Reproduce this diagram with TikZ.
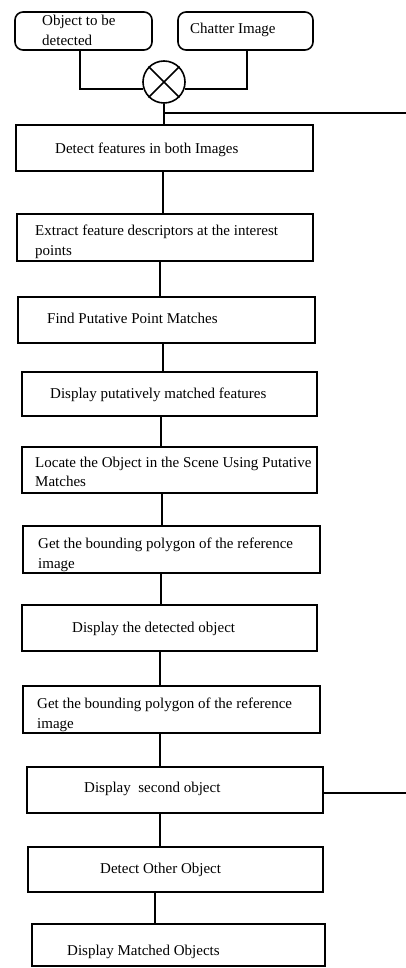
\documentclass[tikz,border=0pt]{standalone}
\usepackage{fontspec}
\setmainfont{Liberation Serif}
\begin{document}
\begin{tikzpicture}[x=1pt,y=-1pt,
  box/.style={draw,line width=1.6pt,rectangle,inner sep=0pt},
  rbox/.style={box,rounded corners=8pt},
  lbl/.style={anchor=west,inner sep=0pt,align=left,font=\fontsize{15}{19.5}\selectfont,text height=10pt,text depth=3pt},
  conn/.style={line width=1.6pt}]
\useasboundingbox (0,0) rectangle (406,968);
\fill[white] (0,0) rectangle (406,968);
% top inputs
\node[rbox,minimum width=137pt,minimum height=38pt] (r1) at (83.5,31) {};
\node[rbox,minimum width=135pt,minimum height=38pt] (r2) at (245.5,31) {};
\node[lbl] (tr1) at (42,42) {Object to be\\detected};
\node[lbl] (tr2) at (190,30) {Chatter Image};
% multiplier
\node[draw,circle,line width=1.6pt,minimum size=42pt,inner sep=0pt] (c) at (164,82) {};
\draw[conn] (c.45) -- (c.225) (c.135) -- (c.-45);
% boxes
\node[box,minimum width=297pt,minimum height=46pt] (b1) at (164.5,148) {};
\node[box,minimum width=296pt,minimum height=47pt] (b2) at (165,237.5) {};
\node[box,minimum width=297pt,minimum height=46pt] (b3) at (166.5,320) {};
\node[box,minimum width=295pt,minimum height=44pt] (b4) at (169.5,394) {};
\node[box,minimum width=295pt,minimum height=46pt] (b5) at (169.5,470) {};
\node[box,minimum width=297pt,minimum height=47pt] (b6) at (171.5,549.5) {};
\node[box,minimum width=295pt,minimum height=46pt] (b7) at (169.5,628) {};
\node[box,minimum width=297pt,minimum height=47pt] (b8) at (171.5,709.5) {};
\node[box,minimum width=296pt,minimum height=46pt] (b9) at (175,790) {};
\node[box,minimum width=295pt,minimum height=45pt] (b10) at (175.5,869.5) {};
\node[box,minimum width=293pt,minimum height=42pt] (b11) at (178.5,945) {};
% texts
\node[lbl] (t1) at (55,150) {Detect features in both Images};
\node[lbl] (t2) at (35,251.5) {Extract feature descriptors at the interest\\points};
\node[lbl] (t3) at (47,320) {Find Putative Point Matches};
\node[lbl] (t4) at (50,395) {Display putatively matched features};
\node[lbl] (t5) at (35,483) {Locate the Object in the Scene Using Putative\\Matches};
\node[lbl] (t6) at (38,564.5) {Get the bounding polygon of the reference\\image};
\node[lbl] (t7) at (72,629) {Display the detected object};
\node[lbl] (t8) at (37,724.5) {Get the bounding polygon of the reference\\image};
\node[lbl] (t9) at (84,789) {Display\ \ second object};
\node[lbl] (t10) at (100,870) {Detect Other Object};
\node[lbl] (t11) at (67,952) {Display Matched Objects};
% connectors
\draw[conn] ([xshift=-3.5pt]r1.south) |- (c.199);
\draw[conn] ([xshift=1.5pt]r2.south) |- (c.-19);
\draw[conn] (c.south) -- (c.south |- b1.north);
\coordinate (j1) at (164,113);
\coordinate (e1) at (406,113);
\draw[conn] (j1) -- (e1);
\draw[conn] ([xshift=-1.5pt]b1.south) -- ([xshift=-1.5pt]b1.south |- b2.north);
\draw[conn] ([xshift=-5pt]b2.south) -- ([xshift=-5pt]b2.south |- b3.north);
\draw[conn] ([xshift=-3.5pt]b3.south) -- ([xshift=-3.5pt]b3.south |- b4.north);
\draw[conn] ([xshift=-8.5pt]b4.south) -- ([xshift=-8.5pt]b4.south |- b5.north);
\draw[conn] ([xshift=-7.5pt]b5.south) -- ([xshift=-7.5pt]b5.south |- b6.north);
\draw[conn] ([xshift=-10.5pt]b6.south) -- ([xshift=-10.5pt]b6.south |- b7.north);
\draw[conn] ([xshift=-9.5pt]b7.south) -- ([xshift=-9.5pt]b7.south |- b8.north);
\draw[conn] ([xshift=-11.5pt]b8.south) -- ([xshift=-11.5pt]b8.south |- b9.north);
\draw[conn] ([xshift=-15pt]b9.south) -- ([xshift=-15pt]b9.south |- b10.north);
\draw[conn] ([xshift=-20.5pt]b10.south) -- ([xshift=-20.5pt]b10.south |- b11.north);
\coordinate (e2) at (406,793);
\draw[conn] (b9.east |- e2) -- (e2);
\end{tikzpicture}
\end{document}
